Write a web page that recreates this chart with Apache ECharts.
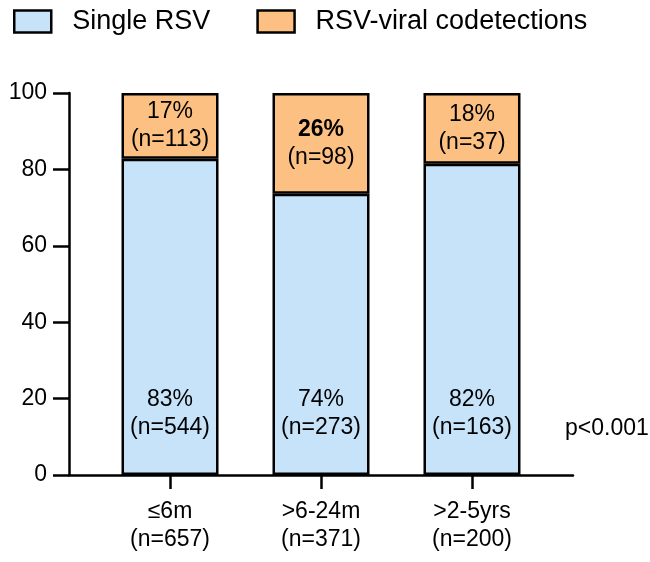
<!DOCTYPE html>
<html><head><meta charset="utf-8">
<script src="https://cdn.jsdelivr.net/npm/echarts@6/dist/echarts.min.js"></script>
<style>html,body{margin:0;padding:0;background:#fff}#c{width:650px;height:562px}</style>
</head><body><div id="c"></div>
<script>
var categories = ['≤6m', '>6-24m', '>2-5yrs'];
var totals = [657, 371, 200];
var singlePct = [82.8, 73.6, 81.5];
var codetPct = [17.2, 26.4, 18.5];
var singleLabel = ['83%', '74%', '82%'];
var codetLabel = ['17%', '26%', '18%'];
var singleN = [544, 273, 163];
var codetN = [113, 98, 37];
var seriesNames = ['Single RSV', 'RSV-viral codetections'];

var FONT = '"Liberation Sans", Arial, Helvetica, sans-serif';
var chart = echarts.init(document.getElementById('c'));
var idx = categories.map(function(_, i){ return i; });

chart.setOption({
  animation: false,
  textStyle: { fontFamily: FONT, color: '#000' },
  legend: {
    left: 8, top: 3,
    itemWidth: 37, itemHeight: 22, itemGap: 46,
    icon: 'rect',
    itemStyle: { borderColor: '#000', borderWidth: 2.5 },
    textStyle: { fontSize: 27, color: '#000', fontFamily: FONT, padding: [0, 0, 0, 16] },
    data: seriesNames
  },
  grid: { left: 69, right: 77, top: 93, bottom: 87 },
  xAxis: {
    type: 'value', min: -0.669, max: 2.669,
    splitLine: { show: false },
    axisLine: { show: true, lineStyle: { color: '#000', width: 2.5 } },
    axisTick: { show: true, customValues: idx, length: 14, lineStyle: { color: '#000', width: 2.5 } },
    axisLabel: {
      customValues: idx, margin: 23, fontSize: 23, color: '#000', fontFamily: FONT, lineHeight: 28,
      formatter: function(v){ var i = Math.round(v); return categories[i] + '\n(n=' + totals[i] + ')'; }
    }
  },
  yAxis: {
    type: 'value', min: 0, max: 100, interval: 20,
    splitLine: { show: false },
    axisLine: { show: true, onZero: false, lineStyle: { color: '#000', width: 2.5 } },
    axisTick: { show: true, length: 16, lineStyle: { color: '#000', width: 2.5 } },
    axisLabel: { fontSize: 23, color: '#000', margin: 22, fontFamily: FONT }
  },
  series: [
    {
      name: seriesNames[0], type: 'bar', stack: 's', barWidth: 97,
      encode: { x: 1, y: 0 },
      itemStyle: { color: '#c6e3fa', borderColor: '#000', borderWidth: 2.5 },
      label: {
        show: true, position: 'insideBottom', distance: 33, color: '#000', fontSize: 23, lineHeight: 28, fontFamily: FONT,
        formatter: function(p){ var i = p.dataIndex; return singleLabel[i] + '\n(n=' + singleN[i] + ')'; }
      },
      data: idx.map(function(i){ return [singlePct[i], i]; })
    },
    {
      name: seriesNames[1], type: 'bar', stack: 's', barWidth: 97,
      encode: { x: 1, y: 0 },
      itemStyle: { color: '#fdc083', borderColor: '#000', borderWidth: 2.5 },
      label: {
        show: true, position: 'inside', color: '#000', fontFamily: FONT,
        formatter: function(p){ var i = p.dataIndex; return (i === 1 ? '{b|' : '{r|') + codetLabel[i] + '}\n{r|(n=' + codetN[i] + ')}'; },
        rich: {
          r: { fontSize: 23, lineHeight: 28, color: '#000', fontFamily: FONT },
          b: { fontSize: 23, lineHeight: 28, color: '#000', fontWeight: 'bold', fontFamily: FONT }
        }
      },
      data: idx.map(function(i){ return [codetPct[i], i]; })
    }
  ],
  graphic: [
    { type: 'text', left: 565, top: 417, style: { text: 'p<0.001', fontSize: 23, fill: '#000', fontFamily: FONT } }
  ]
});
</script></body></html>
